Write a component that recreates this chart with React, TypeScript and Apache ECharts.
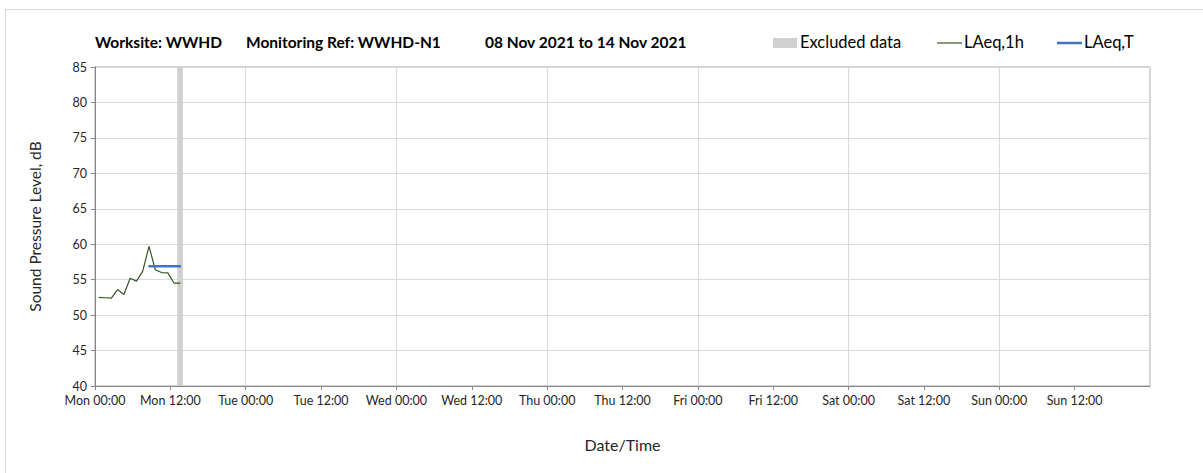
import React, { useEffect, useRef } from "react";
import * as echarts from "echarts";

// Hours since Mon 08 Nov 2021 00:00
const hours = [0.6, 1.6, 2.6, 3.6, 4.6, 5.6, 6.6, 7.6, 8.6, 9.6, 10.6, 11.6, 12.6, 13.6];
const laeq1h = [52.5, 52.45, 52.4, 53.6, 52.9, 55.2, 54.8, 56.2, 59.7, 56.4, 56.0, 55.95, 54.5, 54.5];
const laeqTHours = [8.5, 13.7];
const laeqTValue = 56.9;
const excludedHours = [13.1, 14.0];
const dayNames = ["Mon", "Tue", "Wed", "Thu", "Fri", "Sat", "Sun", "Mon"];
const titleParts = ["Worksite: WWHD", "Monitoring Ref: WWHD-N1", "08 Nov 2021 to 14 Nov 2021"];
const legendNames = ["Excluded data", "LAeq,1h", "LAeq,T"];

const FONT = "Lato, 'Open Sans', sans-serif";
const GREEN = "#375623";
const BLUE = "#4472c4";
const GREY = "#d0d0d0";

export default function App() {
  const ref = useRef<HTMLDivElement>(null);
  useEffect(() => {
    if (!ref.current) return;
    const chart = echarts.init(ref.current, null, { renderer: "svg" });
    const fmt = (v: number) => {
      const d = Math.floor(v / 24);
      const h = v % 24;
      return `${dayNames[d]} ${h === 0 ? "00:00" : "12:00"}`;
    };
    chart.setOption({
      animation: false,
      textStyle: { fontFamily: FONT },
      grid: { left: 95, right: 53, top: 67, bottom: 87, show: true, borderColor: "#a6a6a6", borderWidth: 1, backgroundColor: "transparent" },
      xAxis: [
        {
          type: "value", min: 0, max: 168, interval: 12,
          axisLine: { show: true, lineStyle: { color: "#868686" } },
          axisTick: { show: true, length: 4, lineStyle: { color: "#868686" } },
          splitLine: { show: false },
          axisLabel: {
            color: "#262626", fontSize: 12.5, fontFamily: FONT, margin: 8,
            formatter: (v: number) => (v >= 168 ? "" : fmt(v)),
            showMaxLabel: false,
          },
          name: "Date/Time", nameLocation: "middle", nameGap: 50,
          nameTextStyle: { color: "#262626", fontSize: 16, fontFamily: FONT },
        },
        {
          type: "value", min: 0, max: 168, interval: 24, position: "bottom",
          axisLine: { show: false }, axisTick: { show: false }, axisLabel: { show: false },
          splitLine: { show: true, lineStyle: { color: "#d9d9d9", width: 1 } },
        },
      ],
      yAxis: {
        type: "value", min: 40, max: 85, interval: 5,
        axisLine: { show: true, lineStyle: { color: "#868686" } },
        axisTick: { show: true, length: 4, lineStyle: { color: "#868686" } },
        splitLine: { show: true, lineStyle: { color: "#d9d9d9" } },
        axisLabel: { color: "#262626", fontSize: 12.5, fontFamily: FONT, margin: 8 },
        name: "Sound Pressure Level, dB", nameLocation: "middle", nameGap: 52,
        nameTextStyle: { color: "#262626", fontSize: 15.5, fontFamily: FONT },
      },
      series: [
        {
          name: legendNames[0], type: "line", data: [], xAxisIndex: 0,
          markArea: {
            silent: true, itemStyle: { color: GREY },
            data: [[{ xAxis: excludedHours[0] }, { xAxis: excludedHours[1] }]],
          },
        },
        {
          name: legendNames[1], type: "line", xAxisIndex: 0, symbol: "none",
          lineStyle: { color: GREEN, width: 1.2 },
          data: hours.map((h, i) => [h, laeq1h[i]]),
        },
        {
          name: legendNames[2], type: "line", xAxisIndex: 0, symbol: "none",
          lineStyle: { color: BLUE, width: 2.5 },
          data: laeqTHours.map((h) => [h, laeqTValue]),
        },
      ],
      graphic: [
        { type: "text", left: 95, top: 34, style: { text: titleParts[0], font: `bold 15.5px ${FONT}`, fill: "#000" } },
        { type: "text", left: 246, top: 34, style: { text: titleParts[1], font: `bold 15.5px ${FONT}`, fill: "#000" } },
        { type: "text", left: 485, top: 34, style: { text: titleParts[2], font: `bold 15.5px ${FONT}`, fill: "#000" } },
        { type: "rect", shape: { x: 773, y: 38, width: 24, height: 10 }, style: { fill: GREY } },
        { type: "text", left: 800, top: 33, style: { text: legendNames[0], font: `16.5px ${FONT}`, fill: "#000" } },
        { type: "line", shape: { x1: 937, y1: 43, x2: 962, y2: 43 }, style: { stroke: GREEN, lineWidth: 1.2 } },
        { type: "text", left: 964, top: 33, style: { text: legendNames[1], font: `16.5px ${FONT}`, fill: "#000" } },
        { type: "line", shape: { x1: 1057, y1: 43, x2: 1082, y2: 43 }, style: { stroke: BLUE, lineWidth: 2.5 } },
        { type: "text", left: 1084, top: 33, style: { text: legendNames[2], font: `16.5px ${FONT}`, fill: "#000" } },
      ],
    });
    return () => chart.dispose();
  }, []);
  return (
    <div style={{ position: "absolute", left: 0, top: 0, width: 1203, height: 473, background: "#fff" }}>
      <div style={{ position: "absolute", left: 5, top: 9, width: 1300, height: 600, borderLeft: "1px solid #d9d9d9", borderTop: "1px solid #d9d9d9", boxSizing: "border-box" }} />
      <div ref={ref} style={{ position: "absolute", left: 0, top: 0, width: 1203, height: 473 }} />
    </div>
  );
}
